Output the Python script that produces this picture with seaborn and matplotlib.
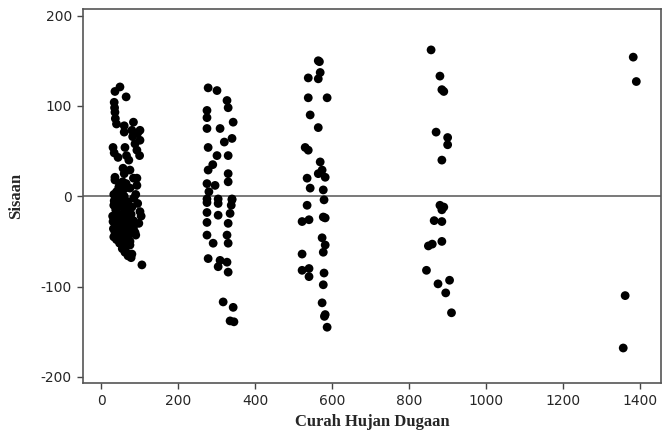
import numpy as np
import pandas as pd
import matplotlib.pyplot as plt
import seaborn as sns

# fitted values (Curah Hujan Dugaan) and residuals (Sisaan)
fit_1 = [49, 36, 65, 34, 35, 36, 37, 84, 60, 101, 80, 60, 101, 82, 31, 62, 93, 34, 44, 66,
         57, 60, 36, 93, 75, 95, 88, 40, 72, 100,
         36, 84, 93, 75, 50, 42, 60, 85, 38, 52, 70, 95, 33, 45, 62, 101, 40, 55, 78, 104,
         35, 48, 84, 66, 38, 58, 42, 84, 32, 50, 70, 36, 62, 90, 45, 55, 40, 75, 50, 60,
         75, 58, 65, 70, 80, 106, 88, 30, 34, 46, 65, 80, 52, 48, 55, 62, 78, 33, 38, 31,
         35, 40, 33, 44, 98,
         44, 56, 68, 90, 47, 58, 72, 39, 52, 64, 44, 60, 70, 48, 56, 66]
res_1 = [121, 116, 110, 104, 98, 93, 86, 82, 78, 73, 73, 71, 62, 66, 54, 54, 51, 48, 43, 45,
         31, 25, 21, 20, 29, 70, 58, 80, 40, 45,
         18, 20, 12, 9, 6, 3, 0, -2, -3, -5, -6, -8, -10, -12, -14, -17, -18, -20, -20, -22,
         -25, -27, -27, -28, -30, -32, -33, -35, -36, -37, -38, -40, -42, -43, -44, -46, -48, -50, -52, -55,
         -54, -58, -62, -66, -64, -76, -40, -22, -5, 10, 14, -12, -40, -52, -58, -62, -68, 2, -15, -28,
         -8, 5, -45, -20, -30,
         -2, -10, -16, 2, -24, -26, -32, -12, -34, -48, -38, 8, -44, 12, 16, -24]

fit_2 = [278, 301, 327, 330, 275, 275, 343, 275, 309, 340, 278, 301, 330, 278, 330, 330, 275, 296,
         275, 304, 340, 275, 304, 340, 275, 335, 304, 330, 275, 275, 327, 291, 330, 278, 309, 327,
         304, 330, 317, 343, 335, 345, 280, 320, 290, 338]
res_2 = [120, 117, 106, 98, 95, 87, 82, 75, 75, 64, 54, 45, 45, 29, 25, 16, 14, 12,
         -3, -3, -3, -7, -8, -4, -18, -19, -21, -30, -29, -43, -43, -52, -52, -69, -71, -73,
         -78, -84, -117, -123, -138, -139, 5, 60, 35, -10]

fit_3 = [564, 567, 538, 569, 564, 538, 587, 543, 564, 530, 538, 569, 574, 564, 582, 535, 543, 577,
         579, 535, 577, 582, 522, 540, 574, 582, 577, 522, 522, 540, 540, 579, 577, 574, 582, 580, 587]
res_3 = [150, 149, 131, 137, 130, 109, 109, 90, 76, 54, 51, 38, 29, 25, 21, 20, 9, 7,
         -4, -10, -23, -24, -28, -26, -46, -54, -62, -64, -82, -80, -89, -85, -98, -118, -131, -133, -145]

fit_4 = [857, 880, 885, 890, 870, 900, 900, 885, 880, 890, 885, 865, 885, 885, 850, 860, 845, 875,
         905, 895, 910]
res_4 = [162, 133, 118, 116, 71, 65, 57, 40, -10, -12, -15, -27, -28, -50, -55, -53, -82, -97,
         -93, -107, -129]

fit_5 = [1382, 1390, 1361, 1356]
res_5 = [154, 127, -110, -168]

x_ticks = [0, 200, 400, 600, 800, 1000, 1200, 1400]
y_ticks = [-200, -100, 0, 100, 200]

df = pd.DataFrame({
    'fit': fit_1 + fit_2 + fit_3 + fit_4 + fit_5,
    'res': res_1 + res_2 + res_3 + res_4 + res_5,
})

sns.set_style('white')
plt.rcParams['font.family'] = ['DejaVu Sans']
plt.rcParams['axes.unicode_minus'] = False

fig = plt.figure(figsize=(6.64, 4.41), dpi=100)
ax = fig.add_axes([0.125, 0.131, 0.871, 0.848])

ax.axhline(0, color='#555555', lw=1.1, zorder=1)
sns.scatterplot(data=df, x='fit', y='res', color='black', s=40, edgecolor='none', ax=ax, zorder=3)

ax.set_xlim(-47, 1455)
ax.set_ylim(-207, 207)
ax.set_xticks(x_ticks)
ax.set_yticks(y_ticks)
ax.tick_params(axis='both', direction='out', length=4, width=1, color='#444444',
               labelsize=10, pad=4, bottom=True, left=True)
for side in ['left', 'bottom', 'top', 'right']:
    ax.spines[side].set_color('#555555')
    ax.spines[side].set_linewidth(1.2)

ax.set_xlabel('Curah Hujan Dugaan', family='Liberation Serif', fontweight='bold', fontsize=12, labelpad=4)
ax.set_ylabel('Sisaan', family='Liberation Serif', fontweight='bold', fontsize=12, labelpad=12)

plt.savefig('out.png', dpi=100)
